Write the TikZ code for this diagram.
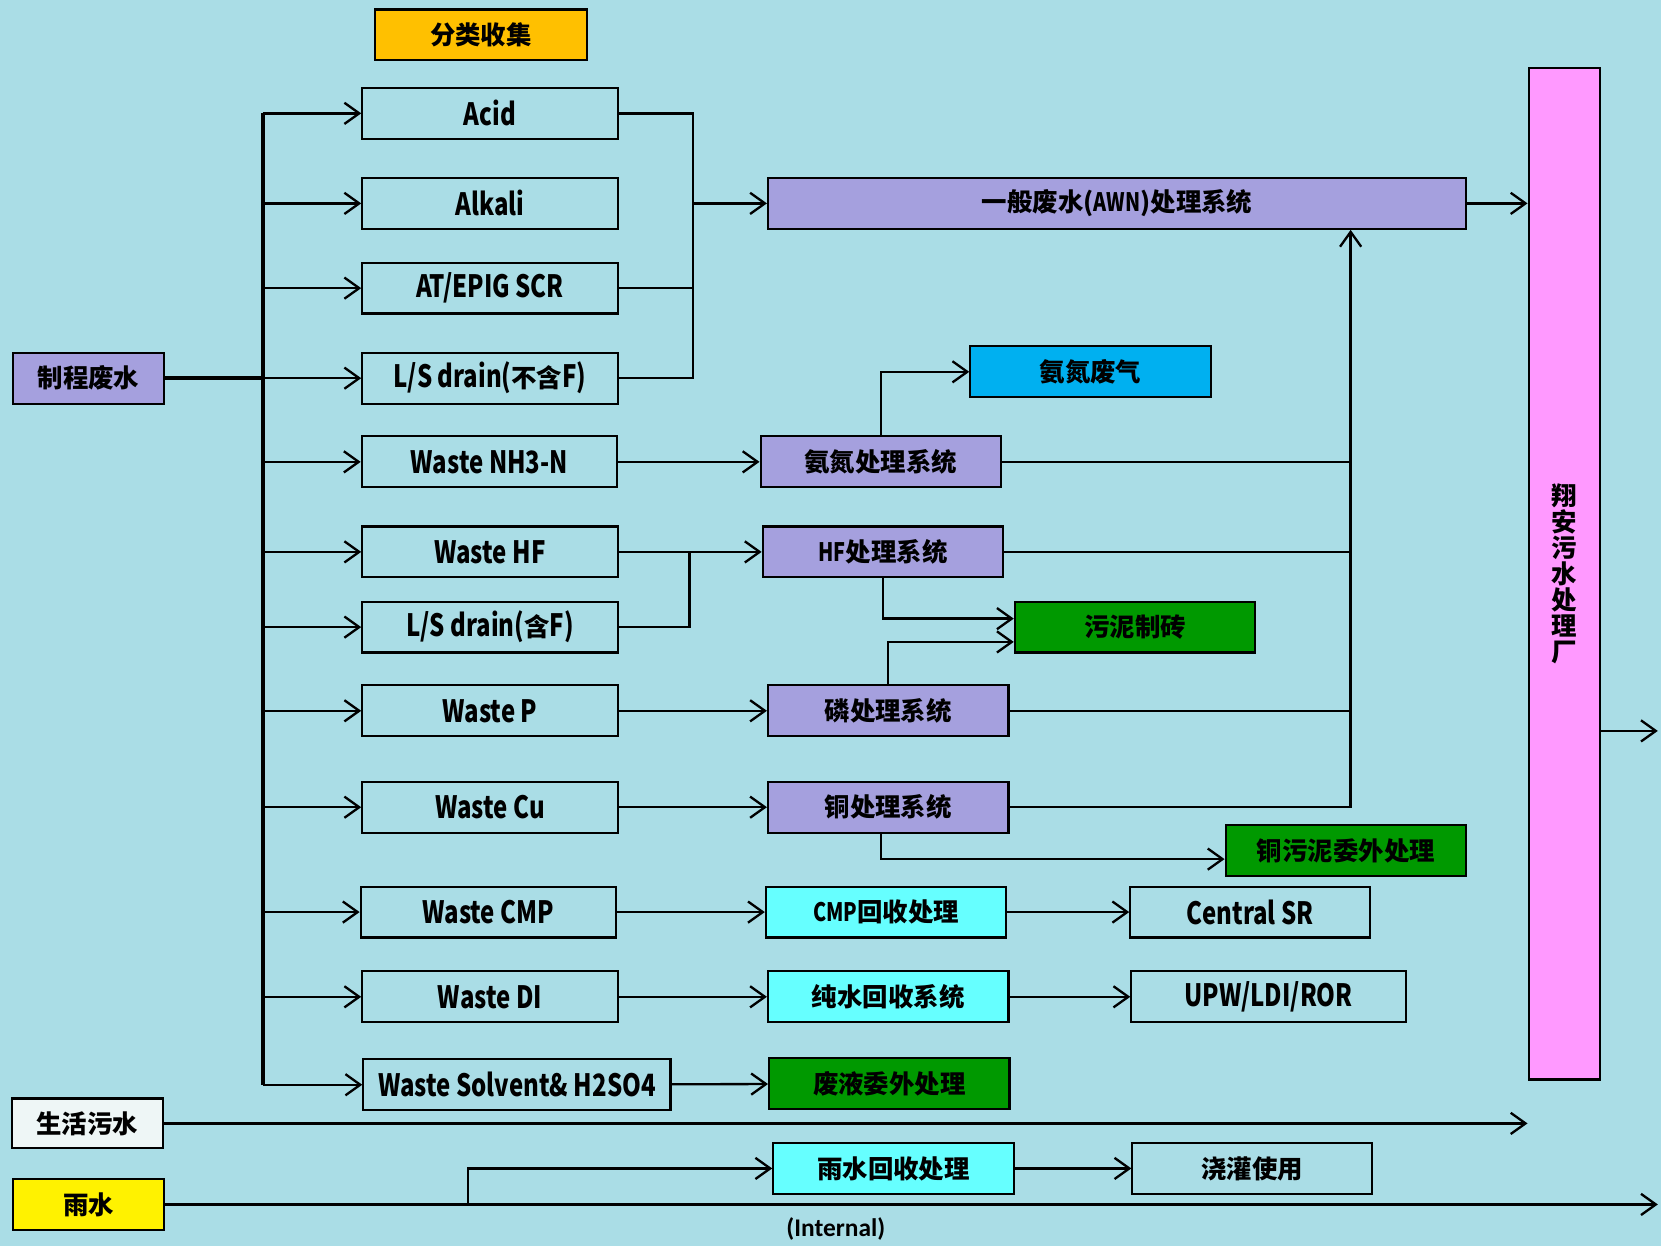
\documentclass[tikz,border=0pt]{standalone}
\usepackage{fontspec}
\setmainfont{Noto Sans CJK SC}[FakeStretch=0.78]
\newfontfamily\zhfont{Noto Sans CJK SC}
\newfontfamily\calfont{Carlito}
\usetikzlibrary{arrows.meta}
\definecolor{bgblue}{HTML}{AADDE6}
\definecolor{lilac}{HTML}{A5A0DE}
\definecolor{skyblue}{HTML}{00B0F0}
\definecolor{brickgreen}{HTML}{009900}
\definecolor{aqua}{HTML}{66FFFF}
\definecolor{pinkish}{HTML}{FF99FF}
\definecolor{orangey}{HTML}{FFC000}
\definecolor{paper}{HTML}{EEF6F6}
\newcommand\latn[1]{{\rmfamily\bfseries #1}}

\begin{document}
\begin{tikzpicture}[x=0.5pt,y=-0.5pt,
    every node/.style={draw=black,line width=1pt,inner sep=0pt,minimum height=24pt,text=black},
    stream/.style={minimum width=120.5pt,font=\bfseries\fontsize{14.5}{16}\selectfont},
    unit/.style={minimum width=113.5pt,font=\zhfont\bfseries\fontsize{12}{14}\selectfont},
    flow/.style={-{Straight Barb[length=7pt,width=10pt,line width=1.1pt]},line width=1.1pt},
    pipe/.style={line width=1.1pt},
    trunk/.style={line width=1.9pt}]
    \useasboundingbox (0,0) rectangle (1568,1176);
    \fill[bgblue] (0,0) rectangle (1568,1176);

    \node[unit,fill=orangey,minimum width=100pt] (sort) at (454,33) {分类收集};

    \node[unit,fill=lilac,minimum width=71.5pt] (proc) at (83.5,357) {制程废水};
    \node[unit,fill=paper,minimum width=71.5pt,minimum height=23.5pt] (dom) at (82.5,1060.5) {生活污水};
    \node[unit,fill=yellow,minimum width=71.5pt] (rain) at (83.5,1137) {雨水};

    \node[stream] (acid) at (462.5,107) {Acid};
    \node[stream] (alkali) at (462.5,192) {Alkali};
    \node[stream] (atepig) at (462.5,272) {AT/EPIG SCR};
    \node[stream] (lsnof) at (462.5,357) {L/S drain({\zhfont\fontsize{12}{14}\selectfont 不含}F)};
    \node[stream] (nh3) at (462,436) {Waste NH3-N};
    \node[stream] (hf) at (462.5,521) {Waste HF};
    \node[stream] (lsf) at (462.5,592) {L/S drain({\zhfont\fontsize{12}{14}\selectfont 含}F)};
    \node[stream] (wp) at (462.5,671) {Waste P};
    \node[stream] (wcu) at (462.5,762) {Waste Cu};
    \node[stream] (wcmp) at (461,861) {Waste CMP};
    \node[stream] (wdi) at (462.5,941) {Waste DI};
    \node[stream,minimum width=145pt] (wsol) at (488,1024) {Waste Solvent\& H2SO4};

    \node[unit,fill=lilac,minimum width=329.5pt] (awn) at (1054.5,192) {一般废水(\latn{AWN})处理系统};
    \node[unit,fill=skyblue] (gas) at (1029.5,351) {氨氮废气};
    \node[unit,fill=lilac] (nsys) at (831.5,436) {氨氮处理系统};
    \node[unit,fill=lilac] (hfsys) at (833.5,521) {\latn{HF}处理系统};
    \node[unit,fill=brickgreen] (brick) at (1071.5,592) {污泥制砖};
    \node[unit,fill=lilac] (psys) at (838.5,671) {磷处理系统};
    \node[unit,fill=lilac] (cusys) at (838.5,762) {铜处理系统};
    \node[unit,fill=brickgreen] (cuout) at (1270.5,803) {铜污泥委外处理};
    \node[unit,fill=aqua] (cmprec) at (836.5,861) {\latn{CMP}回收处理};
    \node[stream,minimum width=113pt] (csr) at (1180,861) {Central SR};
    \node[unit,fill=aqua] (direc) at (838.5,941) {纯水回收系统};
    \node[stream,minimum width=129.5pt] (upw) at (1197.5,941) {UPW/LDI/ROR};
    \node[unit,fill=brickgreen] (liqout) at (839.5,1023) {废液委外处理};
    \node[unit,fill=aqua] (rainrec) at (843.5,1103) {雨水回收处理};
    \node[unit,minimum width=113pt] (irrig) at (1182,1103) {浇灌使用};

    \node[unit,fill=pinkish,minimum width=33.5pt,minimum height=477.5pt,align=center,
        font=\zhfont\bfseries\fontsize{12}{12.3}\selectfont] (plant) at (1476.5,541.5)
        {翔\\安\\污\\水\\处\\理\\厂};
    \node[draw=none,minimum height=0pt,font=\calfont\bfseries\fontsize{12}{14}\selectfont] (internal) at (789,1160) {(Internal)};

    \coordinate (bus) at (248,357);
    \coordinate (col) at (654,192);
    \coordinate (riser) at (1275,436);
    \coordinate (hfjoin) at (651,521);
    \coordinate (raintap) at (442,1137);
    \coordinate (plantout) at (1565,690);
    \coordinate (outlet) at (1565,1137);

    \draw[trunk] (proc) -- (bus);
    \draw[trunk] (acid.west -| bus) -- (wsol.west -| bus);
    \foreach \s in {acid,alkali,atepig,lsnof,nh3,hf,lsf,wp,wcu,wcmp,wdi,wsol}
        \draw[flow] (\s.west -| bus) -- (\s);

    \draw[pipe] (acid) -| (col |- lsnof) -- (lsnof);
    \draw[pipe] (atepig) -- (atepig -| col);
    \draw[flow] (col) -- (awn);
    \draw[flow] (awn) -- (awn -| plant.west);

    \draw[flow] (nh3) -- (nsys);
    \draw[flow] (nsys.north) |- (gas);
    \draw[pipe] (nsys) -- (nsys -| riser);
    \draw[flow] (hf) -- (hfsys);
    \draw[pipe] (lsf) -| (hfjoin);
    \draw[pipe] (hfsys) -- (hfsys -| riser);
    \draw[flow] (hfsys.south) |- ([yshift=4pt]brick.west);
    \draw[flow] (wp) -- (psys);
    \draw[flow] (psys.north) |- ([yshift=-7pt]brick.west);
    \draw[pipe] (psys) -- (psys -| riser);
    \draw[flow] (wcu) -- (cusys);
    \draw[flow] (cusys) -| (awn.south -| riser);
    \draw[flow] ([xshift=-3.5pt]cusys.south) |- ([yshift=-4pt]cuout.west);

    \draw[flow] (wcmp) -- (cmprec);
    \draw[flow] (cmprec) -- (csr);
    \draw[flow] (wdi) -- (direc);
    \draw[flow] (direc) -- (upw);
    \draw[flow] (wsol) -- (liqout);

    \draw[flow] (plant.east |- plantout) -- (plantout);
    \draw[flow] (dom) -- (dom -| plant.west);
    \draw[flow] (rain) -- (outlet);
    \draw[flow] (raintap) |- (rainrec);
    \draw[flow] (rainrec) -- (irrig);
\end{tikzpicture}
\end{document}
